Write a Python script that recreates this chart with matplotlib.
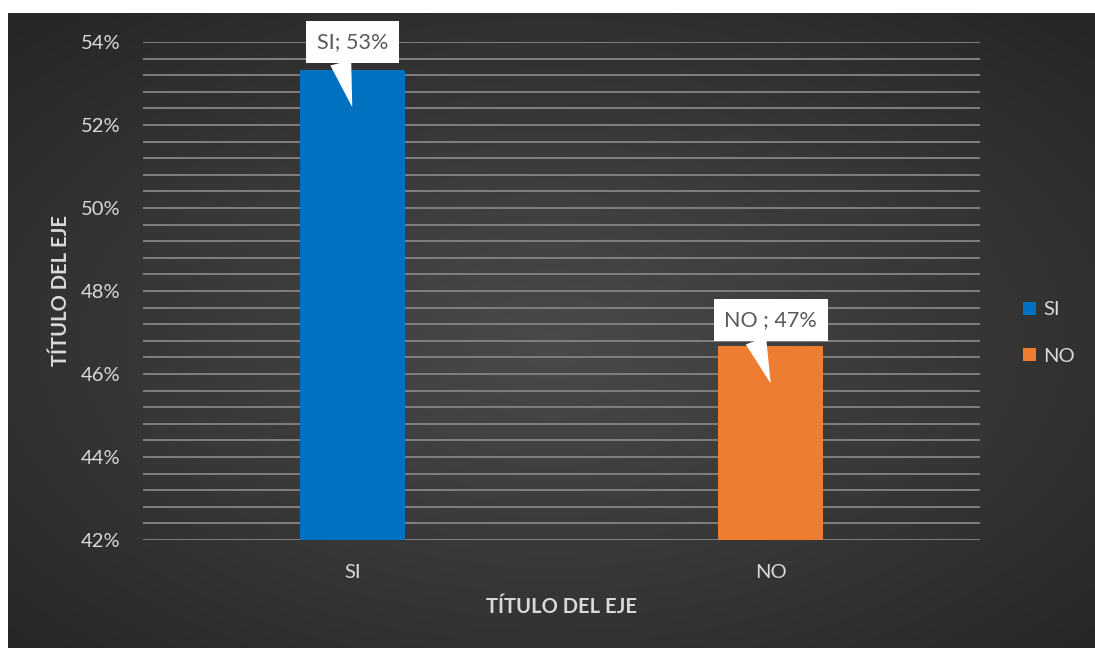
import numpy as np
import matplotlib.pyplot as plt
from matplotlib.patches import Patch
from matplotlib.ticker import MultipleLocator, FixedLocator, FuncFormatter

categories = ["SI", "NO"]
values = [53.33, 46.67]
point_labels = ["SI; 53%", "NO ; 47%"]
colors = ["#0070C0", "#ED7D31"]
y_ticks = [42, 44, 46, 48, 50, 52, 54]
axis_title = "TÍTULO DEL EJE"

FONT = "Lato"
TXT = "#d9d9d9"
FS = 14.5
W, H = 1095, 648
fig = plt.figure(figsize=(W / 100, H / 100), dpi=100)
fig.patch.set_facecolor("white")

# radial gradient background
bg = fig.add_axes([8 / W, 0, 1 - 8 / W, 1 - 13 / H])
ny, nx = 300, 540
yy, xx = np.mgrid[0:1:ny * 1j, 0:1:nx * 1j]
r = np.sqrt(((xx - 0.5) / 0.75) ** 2 + ((yy - 0.52) / 0.75) ** 2)
r = np.clip(r / 0.94, 0, 1)
c = 0.29 - (0.29 - 0.15) * r
img = np.dstack([c, c, c])
bg.imshow(img, aspect="auto", extent=[0, 1, 0, 1], interpolation="bilinear")
bg.set_axis_off()

ax = fig.add_axes([143 / W, 1 - 540 / H, (980 - 143) / W, (540 - 42) / H])
ax.set_facecolor("none")
x = np.arange(len(categories))
ax.set_xlim(-0.5, 1.5)
ax.set_ylim(y_ticks[0], y_ticks[-1])
ax.yaxis.set_major_locator(FixedLocator(y_ticks))
ax.yaxis.set_minor_locator(MultipleLocator(0.4))
ax.yaxis.set_major_formatter(FuncFormatter(lambda v, p: f"{v:.0f}%"))
ax.grid(axis="y", which="both", color="#808080", lw=1.4, zorder=0)
ax.set_axisbelow(True)
for s in ax.spines.values():
    s.set_visible(False)
ax.tick_params(axis="both", which="both", length=0)
ax.tick_params(axis="y", pad=16, labelsize=FS, labelcolor=TXT)
ax.tick_params(axis="x", pad=17, labelsize=FS, labelcolor=TXT)
ax.set_xticks(x)
ax.set_xticklabels(categories)
for lab in ax.get_xticklabels() + ax.get_yticklabels():
    lab.set_fontfamily(FONT)

bars = ax.bar(x, values, width=0.25, color=colors, zorder=2)

for i, (v, lab) in enumerate(zip(values, point_labels)):
    off = 0.67 if i == 0 else 0.63
    ax.annotate(lab, xy=(i, v - 0.9), xytext=(i, v + off),
                xycoords="data", textcoords="data",
                ha="center", va="center", fontsize=15.5, family=FONT,
                color="#595959", zorder=5,
                bbox=dict(boxstyle="square,pad=0.5", fc="white", ec="none"),
                arrowprops=dict(arrowstyle="wedge,tail_width=1.0,shrink_factor=0.5",
                                fc="white", ec="none", relpos=(0.3, 0.0),
                                shrinkA=0, shrinkB=0))

handles = [Patch(facecolor=c_, edgecolor="none") for c_ in colors]
fig.legend(handles, categories, loc="center left",
           bbox_to_anchor=(1005 / W, 1 - 333 / H), frameon=False,
           handlelength=0.65, handleheight=0.65, handletextpad=0.35,
           labelspacing=1.45, prop={"family": FONT, "size": FS},
           labelcolor=TXT)

fig.text(61 / W, 1 - 290 / H, axis_title, rotation=90, ha="center", va="center",
         fontsize=FS, fontweight="bold", family=FONT, color=TXT)
fig.text(561 / W, 1 - 607 / H, axis_title, ha="center", va="center",
         fontsize=FS, fontweight="bold", family=FONT, color=TXT)

fig.savefig("out.png", dpi=100, facecolor=fig.get_facecolor())
